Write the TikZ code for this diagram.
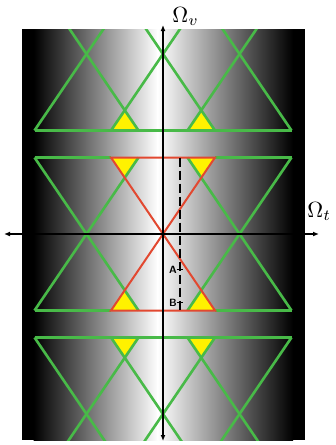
\documentclass[tikz,border=0pt]{standalone}
\usetikzlibrary{arrows.meta}
\definecolor{lgreen}{RGB}{72,186,72}
\definecolor{lred}{RGB}{226,72,48}
\definecolor{lyellow}{RGB}{255,242,0}
\begin{document}
\begin{tikzpicture}[x=1pt,y=-1pt,
  gline/.style={lgreen, line width=2.6pt, line join=miter},
  rline/.style={lred, line width=2pt, line join=miter},
  ytri/.style={fill=lyellow},
  axisline/.style={black, line width=1.4pt, {Latex[length=6pt,width=5pt]}-{Latex[length=6pt,width=5pt]}},
  dashline/.style={black, line width=1.3pt, dash pattern=on 9pt off 4pt},
  tick/.style={black, line width=1pt},
  ptlabel/.style={font=\sffamily\bfseries, inner sep=0pt, scale=1.05},
  axlabel/.style={inner sep=0pt, scale=2.2, anchor=base west}]
\useasboundingbox (0,0) rectangle (336,445);
% background gradient
\fill[black] (22,29) rectangle (34,440);
\shade[left color=black, right color=white] (33.5,29) rectangle (158,440);
\shade[left color=white, right color=black] (157.5,29) rectangle (293,440);
\fill[black] (292.5,29) rectangle (305,440);
\begin{scope}
\clip (22,29) rectangle (305,440);
% yellow overlap triangles
\foreach \a/\b in {111/138.5, 187.5/215}{
  \fill[ytri] (\a,130.5) -- (\b,130.5) -- ({(\a+\b)/2},110) -- cycle;
  \fill[ytri] (\a,157.5) -- (\b,157.5) -- ({(\a+\b)/2},178) -- cycle;
  \fill[ytri] (\a,310.5) -- (\b,310.5) -- ({(\a+\b)/2},290) -- cycle;
  \fill[ytri] (\a,337.5) -- (\b,337.5) -- ({(\a+\b)/2},358) -- cycle;
}
% green hourglasses
\foreach \cy in {54,234,414}{
  \foreach \cx in {86.5,163,239.5}{
    \ifdim\cx pt=163pt \ifdim\cy pt=234pt \else
      \draw[gline] (\cx-52,\cy-76.5) -- (\cx+52,\cy+76.5);
      \draw[gline] (\cx+52,\cy-76.5) -- (\cx-52,\cy+76.5);
    \fi\else
      \draw[gline] (\cx-52,\cy-76.5) -- (\cx+52,\cy+76.5);
      \draw[gline] (\cx+52,\cy-76.5) -- (\cx-52,\cy+76.5);
    \fi
  }
}
\foreach \yy in {130.5,337.5}{
  \draw[gline] (34.5,\yy) -- (291.5,\yy);
}
\foreach \yy in {157.5,310.5}{
  \draw[gline] (34.5,\yy) -- (111,\yy);
  \draw[gline] (215,\yy) -- (291.5,\yy);
}
% red hourglass
\coordinate (c) at (163,234);
\draw[rline] (c) -- (111,157.5) -- (215,157.5) -- cycle;
\draw[rline] (c) -- (111,310.5) -- (215,310.5) -- cycle;
\fill[lred] (c) circle (2.6);
\end{scope}
% dashed line and points
\coordinate (dtop) at (180,157.5);
\coordinate (dbot) at (180,310.5);
\draw[dashline] (dtop) -- (dbot);
\coordinate (ta1) at (176.5,269);
\coordinate (ta2) at (182.5,269);
\coordinate (tb1) at (176.5,302);
\coordinate (tb2) at (182.5,302);
\draw[tick] (ta1) -- (ta2);
\draw[tick] (tb1) -- (tb2);
\node[ptlabel, anchor=east] (A) at (177,269.5) {A};
\node[ptlabel, anchor=east] (B) at (177,302.5) {B};
% axes
\coordinate (vtop) at (163,25);
\coordinate (vbot) at (163,441);
\coordinate (hl) at (4,234);
\coordinate (hr) at (319,234);
\draw[axisline] (vbot) -- (vtop);
\draw[axisline] (hl) -- (hr);
\node[axlabel] (Ov) at (172,22) {$\Omega_v$};
\node[axlabel] (Ot) at (307,217) {$\Omega_t$};
\end{tikzpicture}
\end{document}
